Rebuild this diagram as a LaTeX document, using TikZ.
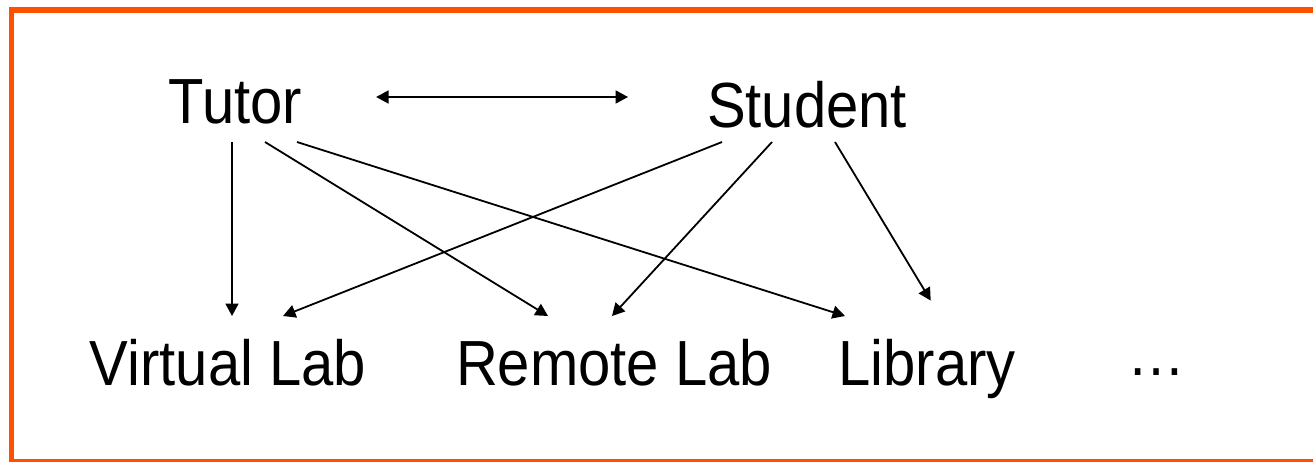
\documentclass[tikz,border=0pt]{standalone}
\usepackage{fontspec}
\setmainfont{Liberation Sans}
\usetikzlibrary{arrows.meta}
\definecolor{frameorange}{RGB}{255,80,0}
\newcommand\tall[1]{\scalebox{1}[1.1]{#1}}
\begin{document}
\begin{tikzpicture}[x=1pt,y=-1pt,>={Triangle[length=12.5pt,width=13pt]},
 word/.style={anchor=base,font=\fontsize{58}{70}\selectfont,text height=44pt,text depth=0pt,inner xsep=0pt,outer sep=0pt},
 link/.style={line width=1.8pt,->}]
 \clip (0,0) rectangle (1313,461);
 \fill [white] (0,0) rectangle (1313,461);
 \draw [frameorange,line width=5.5pt] (11.5,10) rectangle (1340,462);
 % people
 \node [word,inner ysep=19pt] (tutor) at (235.5,123) {\tall{Tutor}};
 \node [word,inner ysep=15pt] (student) at (807,127) {\tall{Student}};
 % what they use
 \node [word,inner ysep=25pt] (vlab) at (228,385) {\tall{Virtual Lab}};
 \node [word,inner ysep=25pt] (rlab) at (614,385) {\tall{Remote Lab}};
 \node [word,inner ysep=25pt] (lib) at (927,385) {\tall{Library}};
 \node [word,inner ysep=0pt] (more) at (1156.5,375) {\tall{…}};
 \draw [link,<->,shorten <=74pt,shorten >=79pt] ([yshift=4pt]tutor.east) -- ([yshift=4pt]tutor.east -| student.west);
 \draw [link] ([xshift=-3.5pt]tutor.south) -- ([xshift=4pt]vlab.north);
 \draw [link] ([xshift=29.5pt]tutor.south) -- ([xshift=-66pt]rlab.north);
 \draw [link] ([xshift=61.5pt]tutor.south) -- ([xshift=-82pt]lib.north);
 \draw [link] ([xshift=-85pt]student.south) -- ([xshift=55pt]vlab.north);
 \draw [link] ([xshift=-35pt]student.south) -- ([xshift=-2pt]rlab.north);
 \draw [link,shorten >=18pt] ([xshift=28pt]student.south) -- ([xshift=13pt]lib.north);
\end{tikzpicture}
\end{document}
